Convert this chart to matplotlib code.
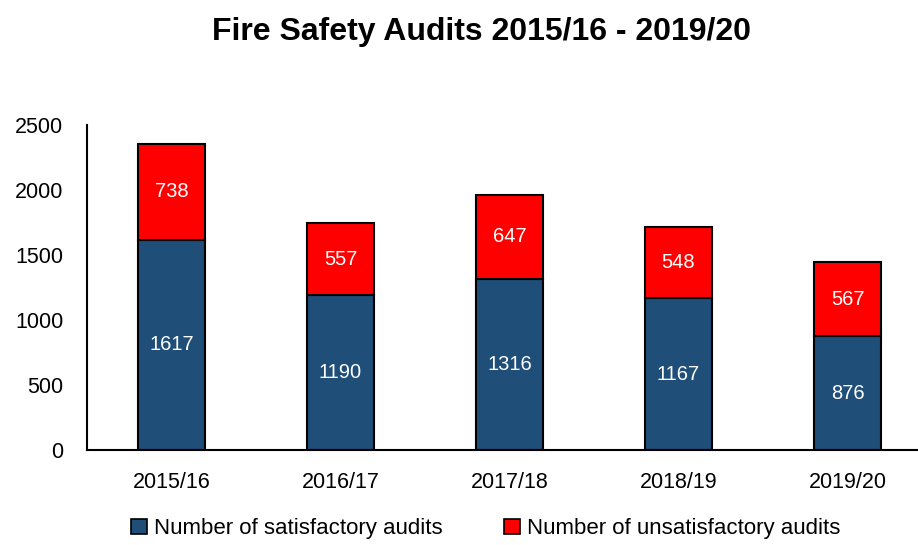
import matplotlib
matplotlib.use("Agg")
import matplotlib.pyplot as plt
from matplotlib.patches import Patch

# data
years = ["2015/16", "2016/17", "2017/18", "2018/19", "2019/20"]
satisfactory = [1617, 1190, 1316, 1167, 876]
unsatisfactory = [738, 557, 647, 548, 567]

blue = "#1F4E79"
red = "#FF0000"

plt.rcParams['font.family'] = ['Liberation Sans', 'DejaVu Sans']

fig = plt.figure(figsize=(9.18, 5.45), dpi=100)
ax = fig.add_axes([0.0948, 0.1743, 0.9205, 0.5963])

x = range(len(years))
b1 = ax.bar(x, satisfactory, width=0.4, color=blue, edgecolor="black", linewidth=1.5)
b2 = ax.bar(x, unsatisfactory, width=0.4, bottom=satisfactory, color=red,
            edgecolor="black", linewidth=1.5)

# value labels in the middle of each segment
for i in x:
    ax.text(i, satisfactory[i] / 2, str(satisfactory[i]), ha="center", va="center",
            color="white", fontsize=14.5)
    ax.text(i, satisfactory[i] + unsatisfactory[i] / 2, str(unsatisfactory[i]),
            ha="center", va="center", color="white", fontsize=14.5)

ax.set_xlim(-0.5, 4.5)
ax.set_ylim(0, 2500)
ax.set_yticks([0, 500, 1000, 1500, 2000, 2500])
ax.set_xticks(list(x))
ax.set_xticklabels(years)
ax.tick_params(axis="both", length=0, labelsize=15.5, colors="black")
ax.tick_params(axis="x", pad=16)
ax.tick_params(axis="y", pad=17)
for s in ["top", "right"]:
    ax.spines[s].set_visible(False)
ax.spines["left"].set_linewidth(1.5)
ax.spines["bottom"].set_linewidth(1.5)

fig.text(0.525, 0.942, "Fire Safety Audits 2015/16 - 2019/20", ha="center", va="center",
         fontsize=23, fontweight="bold")

handles = [Patch(facecolor=blue, edgecolor="black", linewidth=1.2),
           Patch(facecolor=red, edgecolor="black", linewidth=1.2)]
fig.legend(handles, ["Number of satisfactory audits", "Number of unsatisfactory audits"],
           loc="center", bbox_to_anchor=(0.529, 0.03), ncol=2, frameon=False,
           prop={"size": 16},
           handlelength=0.7, handleheight=0.7, handletextpad=0.3, columnspacing=2.8)

fig.savefig("out.png", dpi=100)
